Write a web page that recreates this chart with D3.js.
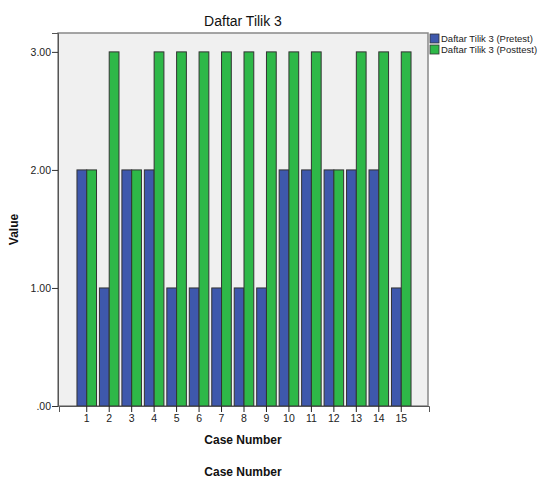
<!DOCTYPE html>
<html>
<head>
<meta charset="utf-8">
<script src="https://cdn.jsdelivr.net/npm/d3@7"></script>
<style>
  html, body { margin: 0; padding: 0; background: #fff; }
  svg { display: block; font-family: "Liberation Sans", Arial, sans-serif; }
</style>
</head>
<body>
<svg id="chart" width="543" height="479"></svg>
<script>
const cases = ["1","2","3","4","5","6","7","8","9","10","11","12","13","14","15"];
const pretest  = [2,1,2,2,1,1,1,1,1,2,2,2,2,2,1];
const posttest = [2,3,2,3,3,3,3,3,3,3,3,2,3,3,3];
const seriesNames = ["Daftar Tilik 3 (Pretest)", "Daftar Tilik 3 (Posttest)"];
const seriesColors = ["#3E58AC", "#2EB848"];
const yTicks = [0, 1, 2, 3];

const svg = d3.select("#chart");
const plot = {left: 58, right: 428, top: 33, bottom: 406};

const x = d3.scaleBand().domain(cases).range([plot.left + 1, plot.right + 1])
  .paddingInner(0.13).paddingOuter(0.8);
const xs = d3.scaleBand().domain([0,1]).range([0, x.bandwidth()]);
const y = d3.scaleLinear().domain([0, 3.16]).range([plot.bottom, plot.top]);

// plot background
svg.append("rect")
  .attr("x", plot.left).attr("y", plot.top)
  .attr("width", plot.right - plot.left).attr("height", plot.bottom - plot.top)
  .attr("fill", "#F0F0F0").attr("stroke", "#888").attr("stroke-width", 1.5);

const rows = cases.map((c, i) => ({c, vals: [pretest[i], posttest[i]]}));
const g = svg.append("g");
rows.forEach(r => {
  r.vals.forEach((v, k) => {
    g.append("rect")
      .attr("x", x(r.c) + xs(k))
      .attr("y", y(v))
      .attr("width", xs.bandwidth())
      .attr("height", y(0) - y(v))
      .attr("fill", seriesColors[k])
      .attr("stroke", "#333")
      .attr("stroke-width", 1);
  });
});

// y axis
const yAxis = d3.axisLeft(y).tickValues(yTicks)
  .tickFormat(d => d === 0 ? ".00" : d3.format(".2f")(d))
  .tickSize(6).tickPadding(1);
const ya = svg.append("g").attr("transform", `translate(${plot.left},0)`).call(yAxis);
ya.select(".domain").attr("stroke", "#555");
ya.selectAll(".tick line").attr("stroke", "#333");
ya.selectAll(".tick text").attr("font-size", 10.5).attr("fill", "#222")
  .attr("font-family", "Liberation Sans, Arial, sans-serif");

// x axis
const xAxis = d3.axisBottom(x).tickSize(6).tickPadding(3);
const xa = svg.append("g").attr("transform", `translate(0,${plot.bottom})`).call(xAxis);
xa.select(".domain").attr("stroke", "#555");
xa.selectAll(".tick line").attr("stroke", "#222");
xa.selectAll(".tick text").attr("font-size", 10.5).attr("fill", "#222")
  .attr("font-family", "Liberation Sans, Arial, sans-serif");

// title
svg.append("text").attr("x", (plot.left + plot.right) / 2).attr("y", 26)
  .attr("text-anchor", "middle").attr("font-size", 14).attr("fill", "#111")
  .text("Daftar Tilik 3");

// axis titles
svg.append("text").attr("x", (plot.left + plot.right) / 2).attr("y", 444)
  .attr("text-anchor", "middle").attr("font-size", 12).attr("font-weight", "bold")
  .attr("fill", "#111").text("Case Number");
svg.append("text").attr("x", (plot.left + plot.right) / 2).attr("y", 476)
  .attr("text-anchor", "middle").attr("font-size", 12).attr("font-weight", "bold")
  .attr("fill", "#111").text("Case Number");
svg.append("text").attr("transform", `translate(18,${(plot.top + plot.bottom) / 2 + 10}) rotate(-90)`)
  .attr("text-anchor", "middle").attr("font-size", 12).attr("font-weight", "bold")
  .attr("fill", "#111").text("Value");

// legend
const lg = svg.append("g").attr("transform", "translate(430,34)");
seriesNames.forEach((n, k) => {
  lg.append("rect").attr("x", 0).attr("y", k * 11).attr("width", 9).attr("height", 9)
    .attr("fill", seriesColors[k]).attr("stroke", "#333").attr("stroke-width", 0.8);
  lg.append("text").attr("x", 11).attr("y", k * 11 + 8).attr("font-size", 9.5)
    .attr("fill", "#222").text(n);
});
</script>
</body>
</html>
